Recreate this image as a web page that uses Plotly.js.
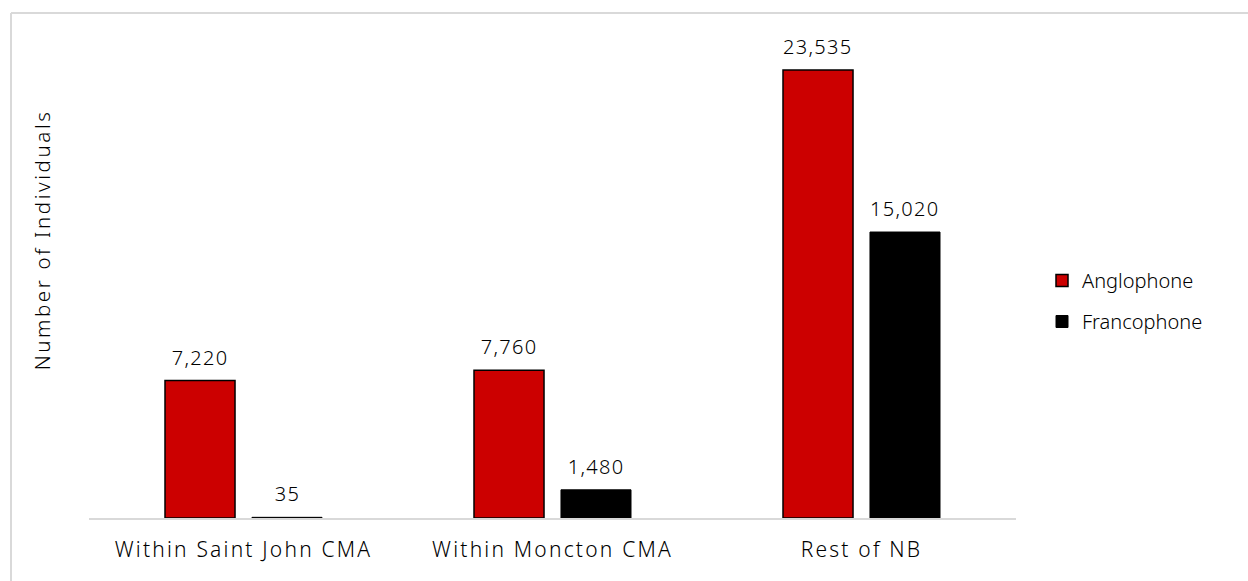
<!DOCTYPE html>
<html>
<head>
<meta charset="utf-8">
<script src="https://cdn.plot.ly/plotly-3.0.1.min.js"></script>
<style>
html,body{margin:0;padding:0;background:#fff;}
#chart{width:1248px;height:581px;}
#chart .xtick text{letter-spacing:2.2px;}
#chart .annotation text{letter-spacing:1.3px;}
#chart .annotation[data-index="6"] text{letter-spacing:2.6px;}
</style>
</head>
<body>
<div id="chart"></div>
<script>
const categories = ["Within Saint John CMA", "Within Moncton CMA", "Rest of NB"];
const anglophone = [7220, 7760, 23535];
const francophone = [35, 1480, 15020];
const seriesNames = ["Anglophone", "Francophone"];
const yTitle = "Number of Individuals";

const fontFam = "Noto Sans, sans-serif";
const fmt = v => v.toLocaleString("en-US");

const traces = [
  {
    type: "bar", name: seriesNames[0], x: categories, y: anglophone,
    marker: {color: "#CC0000", line: {color: "#000000", width: 1.5}},
    legendgroup: "a", hoverinfo: "x+y"
  },
  {
    type: "bar", name: seriesNames[1], x: categories, y: francophone,
    marker: {color: "#000000", line: {color: "#000000", width: 1}},
    legendgroup: "b", hoverinfo: "x+y"
  }
];

const L = 89, R = 1016, T = 42, B = 518;
const W = R - L, H = B - T;
const px = v => (v - L) / W;
const py = v => (B - v) / H;

const annotations = [];
[anglophone, francophone].forEach((arr, s) => {
  arr.forEach((v, i) => {
    annotations.push({
      x: categories[i], y: v, xref: "x", yref: "y",
      xshift: s === 0 ? -43.5 : 43.5, yshift: 8,
      yanchor: "bottom", showarrow: false, text: fmt(v),
      font: {family: fontFam, size: 20, color: "#000", weight: 300}
    });
  });
});
annotations.push({
  x: px(42), y: py(240), xref: "paper", yref: "paper", showarrow: false,
  text: yTitle, textangle: -90, xanchor: "center", yanchor: "middle",
  font: {family: fontFam, size: 20.5, color: "#000", weight: 300}
});

const layout = {
  width: 1248, height: 581,
  margin: {l: L, r: 1248 - R, t: T, b: 581 - B, pad: 0},
  paper_bgcolor: "#fff", plot_bgcolor: "#fff",
  font: {family: fontFam, size: 19, color: "#000", weight: 300},
  barmode: "group", bargap: 0.437, bargroupgap: 0.195,
  showlegend: true,
  legend: {x: px(1042), xanchor: "left", y: py(301), yanchor: "middle",
           font: {family: fontFam, size: 20, color: "#000", weight: 300},
           traceorder: "grouped", tracegroupgap: 12, itemwidth: 30},
  xaxis: {showline: true, linecolor: "#D9D9D9", linewidth: 1.5, ticks: "",
          ticklabelstandoff: 12,
          showgrid: false, zeroline: false, tickfont: {family: fontFam, size: 21, color: "#000", weight: 300}},
  yaxis: {range: [0, 25000], showticklabels: false, showgrid: false, zeroline: false,
          showline: false, ticks: ""},
  annotations: annotations,
  shapes: [
    {type: "line", xref: "paper", yref: "paper", x0: px(11), x1: px(1260), y0: py(13), y1: py(13),
     line: {color: "#D9D9D9", width: 2}},
    {type: "line", xref: "paper", yref: "paper", x0: px(11), x1: px(11), y0: py(13), y1: py(600),
     line: {color: "#D9D9D9", width: 2}}
  ]
};

Plotly.newPlot("chart", traces, layout, {displayModeBar: false, staticPlot: true});
</script>
</body>
</html>
